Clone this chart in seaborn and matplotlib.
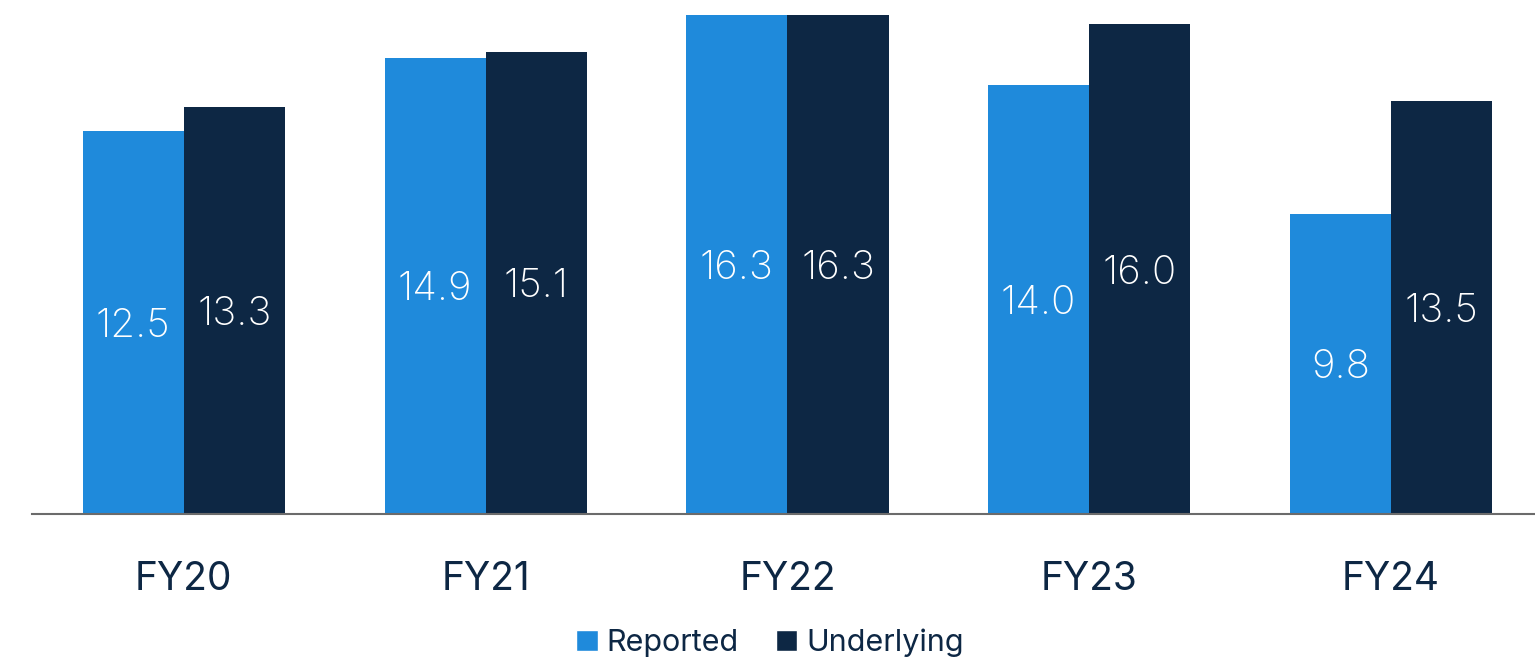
import matplotlib
matplotlib.use("Agg")
import matplotlib.pyplot as plt
import seaborn as sns
import pandas as pd
from matplotlib.patches import Patch

### Data
years = ["FY20", "FY21", "FY22", "FY23", "FY24"]
reported = [12.5, 14.9, 16.3, 14.0, 9.8]
underlying = [13.3, 15.1, 16.3, 16.0, 13.5]
series = ["Reported", "Underlying"]
colors = ["#1F8ADB", "#0D2744"]
navy = "#0D2744"

df = pd.DataFrame({
    "year": years * 2,
    "value": reported + underlying,
    "series": ["Reported"] * len(years) + ["Underlying"] * len(years),
})

sns.set_style("white")
plt.rcParams["font.family"] = ["Inter", "DejaVu Sans"]

fig = plt.figure(figsize=(15.35, 6.59), dpi=100)
ax = fig.add_axes([32 / 1535, 1 - 514 / 659, 1 - 32 / 1535, 514 / 659])

sns.barplot(data=df, x="year", y="value", hue="series", palette=colors,
            width=0.67, gap=0, saturation=1, linewidth=0, ax=ax, legend=False)

for cont in ax.containers:
    labels = [f"{b.get_height():.1f}" for b in cont]
    txts = ax.bar_label(cont, labels=labels, label_type="center", color="white",
                        fontsize=29, fontweight="light")
    for t in txts:
        t.set_va("center_baseline")

ax.set_xlim(-0.503, 4.477)
ax.set_ylim(0, 16.79)
ax.set_xlabel(""); ax.set_ylabel("")
ax.set_yticks([])
for s in ["top", "right", "left"]:
    ax.spines[s].set_visible(False)
ax.spines["bottom"].set_color("#6b6b6b")
ax.spines["bottom"].set_linewidth(1.5)
ax.tick_params(axis="x", length=0, pad=34, labelsize=28, labelcolor=navy)

handles = [Patch(facecolor=c, label=s) for c, s in zip(colors, series)]
fig.legend(handles=handles, loc="center", bbox_to_anchor=(770 / 1535, 1 - 643 / 659),
           ncol=2, frameon=False, fontsize=22, labelcolor=navy,
           handlelength=0.7, handleheight=0.7, handletextpad=0.3, columnspacing=1.2)

fig.savefig("out.png", dpi=100)
